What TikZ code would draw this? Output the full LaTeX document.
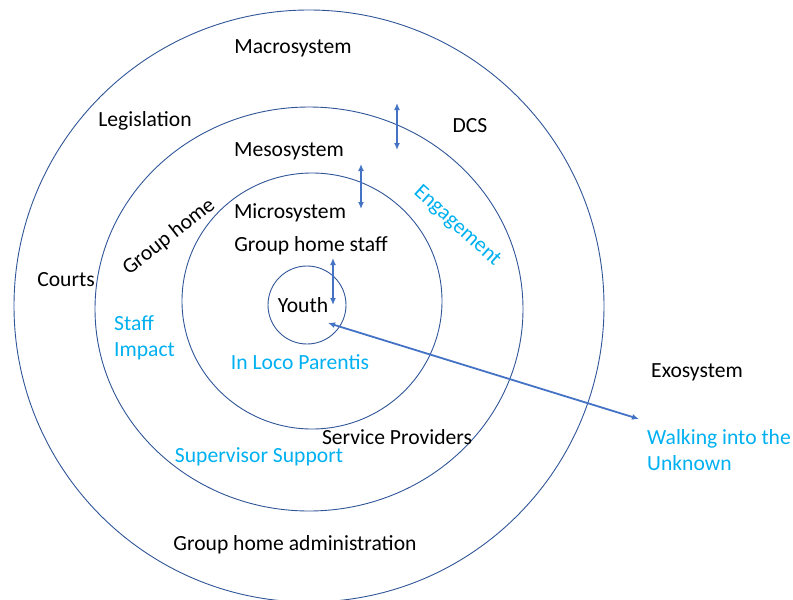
\documentclass[tikz,border=0pt]{standalone}
\usepackage{fontspec}
\setmainfont{Carlito}
\usetikzlibrary{arrows.meta}
\definecolor{ringblue}{HTML}{2F5597}
\definecolor{linkblue}{HTML}{4472C4}
\definecolor{labelcyan}{HTML}{00B0F0}
\tikzset{
  ring/.style={draw=ringblue,line width=0.9pt},
  link/.style={{Latex[length=7pt,width=6pt]}-{Latex[length=7pt,width=6pt]},draw=linkblue,line width=1.8pt},
  lbl/.style={font=\fontsize{21.6}{25.5}\selectfont,text=black,inner sep=0pt},
  note/.style={lbl,text=labelcyan}
}
\begin{document}
\begin{tikzpicture}[x=1pt,y=-1pt]
\useasboundingbox (0,0) rectangle (793,600);
% nested system rings
\draw[ring] (309,306) ellipse (295 and 296);
\draw[ring] (309,309) ellipse (214 and 202);
\draw[ring] (312,301) ellipse (130 and 128);
\draw[ring] (307,305) circle (39);
% system names
\node[lbl] (macro) at (293,48) {Macrosystem};
\node[lbl] (meso) at (289,151) {Mesosystem};
\node[lbl] (micro) at (290,213) {Microsystem};
\node[lbl] (exo) at (697,372) {Exosystem};
\node[lbl] (youth) at (303,305) {Youth};
% settings and actors
\node[lbl] (legis) at (145,121) {Legislation};
\node[lbl] (dcs) at (470,126) {DCS};
\node[lbl] (staff) at (311,246) {Group home staff};
\node[lbl,rotate=38] (ghome) at (169,237) {Group home};
\node[lbl] (courts) at (66,280) {Courts};
\node[lbl] (service) at (397,437) {Service Providers};
\node[lbl] (admin) at (295,545) {Group home administration};
% themes
\node[note,rotate=-42] (engage) at (457,226) {Engagement};
\node[note,anchor=west,align=left] (impact) at (114,338) {Staff\\Impact};
\node[note] (parentis) at (300,362) {In Loco Parentis};
\node[note] (support) at (259,457) {Supervisor Support};
\node[note,anchor=west,align=left] (unknown) at (647,450) {Walking into the\\Unknown};
% links across the rings
\coordinate (a1) at (397,103); \coordinate (b1) at (397,150);
\coordinate (a2) at (361,164); \coordinate (b2) at (361,209);
\coordinate (a3) at (333,258); \coordinate (b3) at (333,305);
\coordinate (inner) at (328,323); \coordinate (outer) at (639,419);
\foreach \i in {1,2,3}{\draw[link] (a\i) -- (b\i);}
\draw[link] (inner) -- (outer);
\end{tikzpicture}
\end{document}
